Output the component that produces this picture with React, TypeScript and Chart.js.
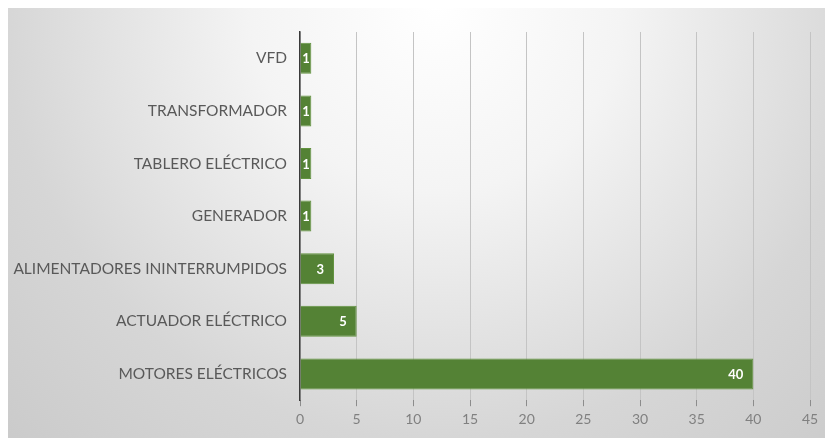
import React, { useEffect, useRef } from "react";
import { Chart, registerables } from "chart.js";

Chart.register(...registerables);

const categories = [
  "VFD",
  "TRANSFORMADOR",
  "TABLERO ELÉCTRICO",
  "GENERADOR",
  "ALIMENTADORES ININTERRUMPIDOS",
  "ACTUADOR ELÉCTRICO",
  "MOTORES ELÉCTRICOS",
];
const counts = [1, 1, 1, 1, 3, 5, 40];
const axisMax = 45;
const axisStep = 5;

const FONT = "Lato, 'Open Sans', sans-serif";

// soft radial backdrop behind the whole chart
const backdrop = {
  id: "backdrop",
  beforeDraw(chart: any) {
    const { ctx, width, height } = chart;
    const g = ctx.createRadialGradient(430, 0, 0, 430, 0, 620);
    g.addColorStop(0, "#ffffff");
    g.addColorStop(0.3, "#f4f4f4");
    g.addColorStop(0.7, "#d6d6d6");
    g.addColorStop(1, "#cacaca");
    ctx.save();
    ctx.fillStyle = g;
    ctx.fillRect(0, 0, width, height);
    ctx.restore();
  },
};

// white value labels placed inside the end of each bar
const endLabels = {
  id: "endLabels",
  afterDatasetsDraw(chart: any) {
    const { ctx } = chart;
    const meta = chart.getDatasetMeta(0);
    const data = chart.data.datasets[0].data;
    ctx.save();
    ctx.font = `bold 13px ${FONT}`;
    ctx.fillStyle = "#ffffff";
    ctx.textAlign = "center";
    ctx.textBaseline = "middle";
    meta.data.forEach((bar: any, i: number) => {
      const txt = String(data[i]);
      const w = ctx.measureText(txt).width;
      const start = bar.base;
      const end = bar.x;
      const cx = Math.max(end - 10 - w / 2, (start + end) / 2);
      ctx.fillText(txt, cx, bar.y + 1);
    });
    ctx.restore();
  },
};

export default function App() {
  const ref = useRef<HTMLCanvasElement>(null);

  useEffect(() => {
    if (!ref.current) return;
    const chart = new Chart(ref.current, {
      type: "bar",
      data: {
        labels: categories,
        datasets: [
          {
            data: counts,
            backgroundColor: "#548235",
            borderColor: "#62933f",
            borderWidth: 1,
            barPercentage: 0.59,
            categoryPercentage: 1,
          },
        ],
      },
      options: {
        indexAxis: "y",
        animation: false,
        responsive: false,
        maintainAspectRatio: false,
        layout: { padding: { left: 0, right: 23, top: 26, bottom: 5 } },
        plugins: {
          legend: { display: false },
          tooltip: { enabled: false },
        },
        scales: {
          x: {
            min: 0,
            max: axisMax,
            ticks: {
              stepSize: axisStep,
              color: "#808080",
              font: { family: FONT, size: 14 },
              padding: 5,
            },
            grid: {
              color: "#c4c4c4",
              lineWidth: 1,
              drawTicks: true,
              tickLength: 6,
              tickColor: "#8c8c8c",
            },
            border: { display: false },
          },
          y: {
            afterFit: (s: any) => {
              s.width = 293;
            },
            ticks: {
              color: "#595959",
              font: { family: FONT, size: 15.5 },
              padding: 13,
            },
            grid: { display: false, drawTicks: false },
            border: { display: true, color: "#3a3a3a", width: 1.5 },
          },
        },
      },
      plugins: [backdrop, endLabels],
    });
    return () => chart.destroy();
  }, []);

  return (
    <div style={{ marginLeft: -1, marginTop: -2, width: 826, height: 432 }}>
      <canvas ref={ref} width={826} height={432} style={{ display: "block" }} />
    </div>
  );
}
